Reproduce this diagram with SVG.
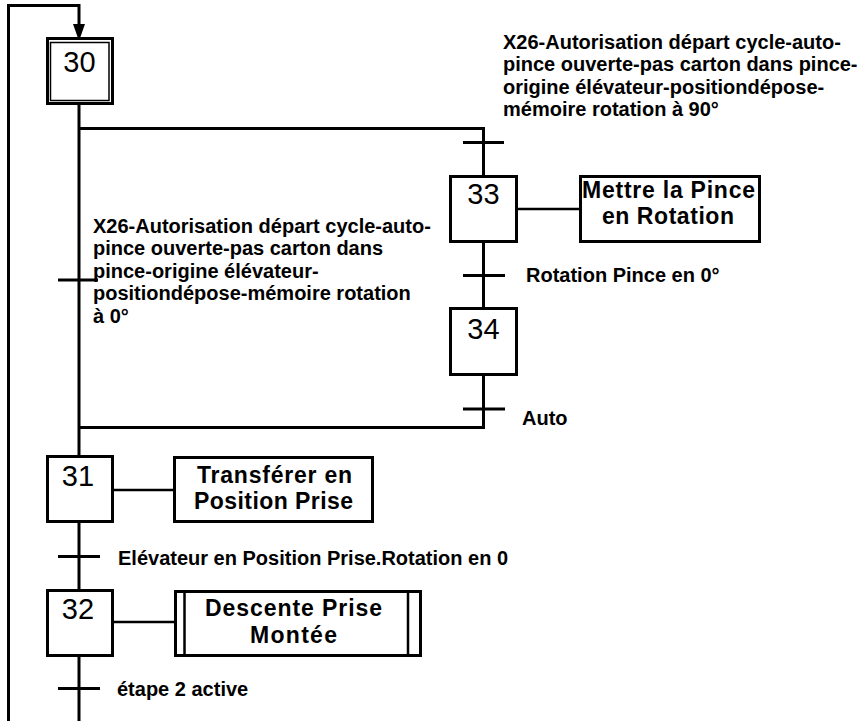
<svg xmlns="http://www.w3.org/2000/svg" width="865" height="721" viewBox="0 0 865 721">
<style>
.ln{fill:none;stroke:#000;stroke-width:3}
.lk{fill:none;stroke:#000;stroke-width:2.5}
.box{fill:#fff;stroke:#000;stroke-width:3}
.num{font-family:"Liberation Sans",Arial,sans-serif;font-size:29px;text-anchor:middle;fill:#000}
.act{font-family:"Liberation Sans",Arial,sans-serif;font-size:23px;font-weight:bold;text-anchor:middle;fill:#000}
.cond{font-family:"Liberation Sans",Arial,sans-serif;font-size:20px;font-weight:bold;fill:#000}
</style>
<g id="connectors">
<path class="ln" d="M8.5,721 V5.5 H79 V26"/>
<polygon points="73,24 85,24 79,41" fill="#000"/>
<path class="ln" d="M79,105 V455"/>
<path class="ln" d="M79,128.5 H483.5 V175"/>
<path class="ln" d="M483.5,243 V307"/>
<path class="ln" d="M483.5,376 V427.5 H79"/>
<path class="ln" d="M79,523 V589"/>
<path class="ln" d="M79,657 V721"/>
<path class="ln" d="M463,142.5 H504"/>
<path class="ln" d="M463,275.5 H505"/>
<path class="ln" d="M463,409 H505"/>
<path class="ln" d="M58,280 H98"/>
<path class="ln" d="M58,556.5 H100"/>
<path class="ln" d="M58,688.5 H100"/>
<path class="lk" d="M518,209 H579"/>
<path class="lk" d="M113,490 H173"/>
<path class="lk" d="M113,622 H174"/>
</g>
<g id="step30">
<rect class="box" x="47.5" y="38.5" width="65" height="65"/>
<rect x="50.5" y="42.5" width="58.5" height="58" fill="none" stroke="#000" stroke-width="1.5"/>
<text class="num" x="79.5" y="72">30</text>
</g>
<g id="step33">
<rect class="box" x="450.5" y="176.5" width="66" height="65"/>
<text class="num" x="483.5" y="204">33</text>
</g>
<g id="action33">
<rect class="box" x="580.5" y="176.5" width="179" height="65"/>
<text class="act" x="668.5" y="198" textLength="173" lengthAdjust="spacing">Mettre la Pince</text>
<text class="act" x="668" y="224" textLength="132" lengthAdjust="spacing">en Rotation</text>
</g>
<g id="step34">
<rect class="box" x="450.5" y="308.5" width="66" height="66"/>
<text class="num" x="483.5" y="339">34</text>
</g>
<g id="step31">
<rect class="box" x="47.5" y="456.5" width="65" height="65"/>
<text class="num" x="78" y="486">31</text>
</g>
<g id="action31">
<rect class="box" x="174.5" y="457.5" width="198" height="64"/>
<text class="act" x="274.5" y="483" textLength="155" lengthAdjust="spacing">Transférer en</text>
<text class="act" x="273.5" y="509" textLength="159" lengthAdjust="spacing">Position Prise</text>
</g>
<g id="step32">
<rect class="box" x="47.5" y="590.5" width="65" height="65"/>
<text class="num" x="78" y="619">32</text>
</g>
<g id="action32">
<rect class="box" x="175.5" y="591.5" width="245" height="64"/>
<path class="lk" d="M184.5,591.5 V655.5 M408,591.5 V655.5"/>
<text class="act" x="293.5" y="616" textLength="177" lengthAdjust="spacing">Descente Prise</text>
<text class="act" x="293.5" y="643" textLength="87" lengthAdjust="spacing">Montée</text>
</g>
<g id="labels">
<text class="cond" x="503" y="49">X26-Autorisation départ cycle-auto-</text>
<text class="cond" x="503" y="71">pince ouverte-pas carton dans pince-</text>
<text class="cond" x="503" y="94">origine élévateur-positiondépose-</text>
<text class="cond" x="503" y="116">mémoire rotation à 90°</text>
<text class="cond" x="93" y="233">X26-Autorisation départ cycle-auto-</text>
<text class="cond" x="93" y="255">pince ouverte-pas carton dans</text>
<text class="cond" x="93" y="278">pince-origine élévateur-</text>
<text class="cond" x="93" y="300">positiondépose-mémoire rotation</text>
<text class="cond" x="93" y="323">à 0°</text>
<text class="cond" x="526" y="282">Rotation Pince en 0°</text>
<text class="cond" x="522" y="425">Auto</text>
<text class="cond" x="118" y="565">Elévateur en Position Prise.Rotation en 0</text>
<text class="cond" x="117" y="696">étape 2 active</text>
</g>
</svg>
